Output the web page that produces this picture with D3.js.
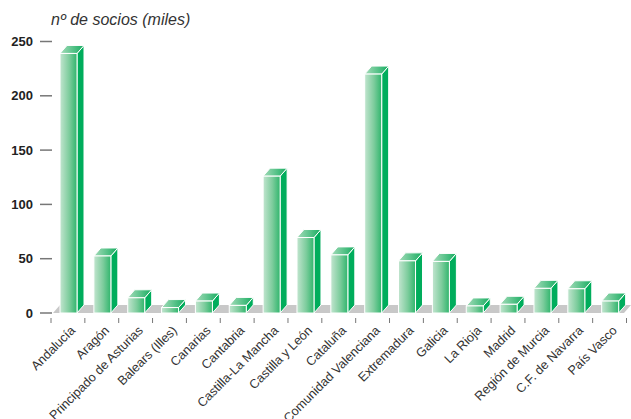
<!DOCTYPE html>
<html lang="es">
<head>
  <meta charset="utf-8">
  <title>Socios por comunidad</title>
  <script src="https://d3js.org/d3.v7.min.js"></script>
  <style>
    body { margin: 0; background: #fff; }
    text { font-family: "Liberation Sans", Arial, sans-serif; fill: #333; }
    .tick-label { font-size: 13px; font-weight: bold; fill: #222; }
    .cat-label { font-size: 12.7px; }
    .title { font-size: 16px; font-style: italic; }
  </style>
</head>
<body>
  <script>
    var regiones = ["Andalucía", "Aragón", "Principado de Asturias", "Balears (Illes)",
      "Canarias", "Cantabria", "Castilla-La Mancha", "Castilla y León", "Cataluña",
      "Comunidad Valenciana", "Extremadura", "Galicia", "La Rioja", "Madrid",
      "Región de Murcia", "C.F. de Navarra", "País Vasco"];
    var socios = [239, 52.5, 14, 5, 11, 7, 126, 69.5, 53.5, 220, 48, 47.5, 6.5, 8, 22.7, 22.3, 11];
    var yTicks = [0, 50, 100, 150, 200, 250];

    var w = 631, h = 419;
    var dx = 7, dy = 8, faceW = 17;

    var x = d3.scaleBand()
      .domain(regiones)
      .range([51, 626.5]);
    var y = d3.scaleLinear()
      .domain([0, 250])
      .range([313, 41.5]);

    var svg = d3.select('body').append('svg')
      .attr('width', w)
      .attr('height', h);

    var defs = svg.append('defs');
    function grad(id, stops) {
      var g = defs.append('linearGradient').attr('id', id)
        .attr('x1', '0%').attr('x2', '100%').attr('y1', '0%').attr('y2', '0%');
      stops.forEach(function(s) {
        g.append('stop').attr('offset', s[0]).attr('stop-color', s[1]);
      });
    }
    grad('front', [['0%', '#c2e5cf'], ['55%', '#7ccc9c'], ['100%', '#2fb56c']]);
    grad('top', [['0%', '#a6dcba'], ['100%', '#16ad60']]);

    // title
    svg.append('text')
      .attr('class', 'title')
      .attr('x', 51)
      .attr('y', 25)
      .text('nº de socios (miles)');

    // y ticks
    var yt = svg.append('g');
    yt.selectAll('line').data(yTicks).enter().append('line')
      .attr('x1', 40).attr('x2', 52)
      .attr('y1', d => y(d)).attr('y2', d => y(d))
      .attr('stroke', '#777').attr('stroke-width', 1.5);
    yt.selectAll('text').data(yTicks).enter().append('text')
      .attr('class', 'tick-label')
      .attr('x', 33)
      .attr('y', d => y(d))
      .attr('dy', '0.35em')
      .attr('text-anchor', 'end')
      .text(d => d);

    // floor
    var x0 = x.range()[0], x1 = x.range()[1], base = y(0);
    svg.append('polygon')
      .attr('points', [[x0 + 2, base], [x0 + 2 + dx, base - dy], [x1 + 4.5, base - dy], [x1 - 2.5, base]].join(' '))
      .attr('fill', '#c8c8c8');

    // bars
    var bars = svg.selectAll('.bar')
      .data(regiones.map((r, i) => ({ r: r, v: socios[i] })))
      .enter().append('g')
      .attr('class', 'bar');

    bars.append('polygon')
      .attr('points', function(d) {
        var bx = x(d.r) + 9 + faceW, by = y(d.v);
        return [[bx, by], [bx + dx, by - dy], [bx + dx, base - dy], [bx, base]].join(' ');
      })
      .attr('fill', '#00ad5c')
      .attr('stroke', '#fff').attr('stroke-width', 1);

    bars.append('polygon')
      .attr('points', function(d) {
        var bx = x(d.r) + 9, by = y(d.v);
        return [[bx, by], [bx + dx, by - dy], [bx + faceW + dx, by - dy], [bx + faceW, by]].join(' ');
      })
      .attr('fill', 'url(#top)')
      .attr('stroke', '#fff').attr('stroke-width', 1);

    bars.append('rect')
      .attr('x', d => x(d.r) + 9)
      .attr('y', d => y(d.v))
      .attr('width', faceW)
      .attr('height', d => base - y(d.v))
      .attr('fill', 'url(#front)')
      .attr('stroke', '#fff').attr('stroke-width', 1);

    // category ticks
    var bounds = regiones.map(r => x(r)).concat([x1]);
    svg.append('g').selectAll('line').data(bounds).enter().append('line')
      .attr('x1', d => d).attr('x2', d => d)
      .attr('y1', 318).attr('y2', 323)
      .attr('stroke', '#777').attr('stroke-width', 1);

    // category labels
    svg.append('g').selectAll('text').data(regiones).enter().append('text')
      .attr('class', 'cat-label')
      .attr('text-anchor', 'end')
      .attr('dy', '0.35em')
      .attr('transform', d => 'translate(' + (x(d) + x.bandwidth() / 2 + 5) + ',328) rotate(-45)')
      .text(d => d);
  </script>
</body>
</html>
